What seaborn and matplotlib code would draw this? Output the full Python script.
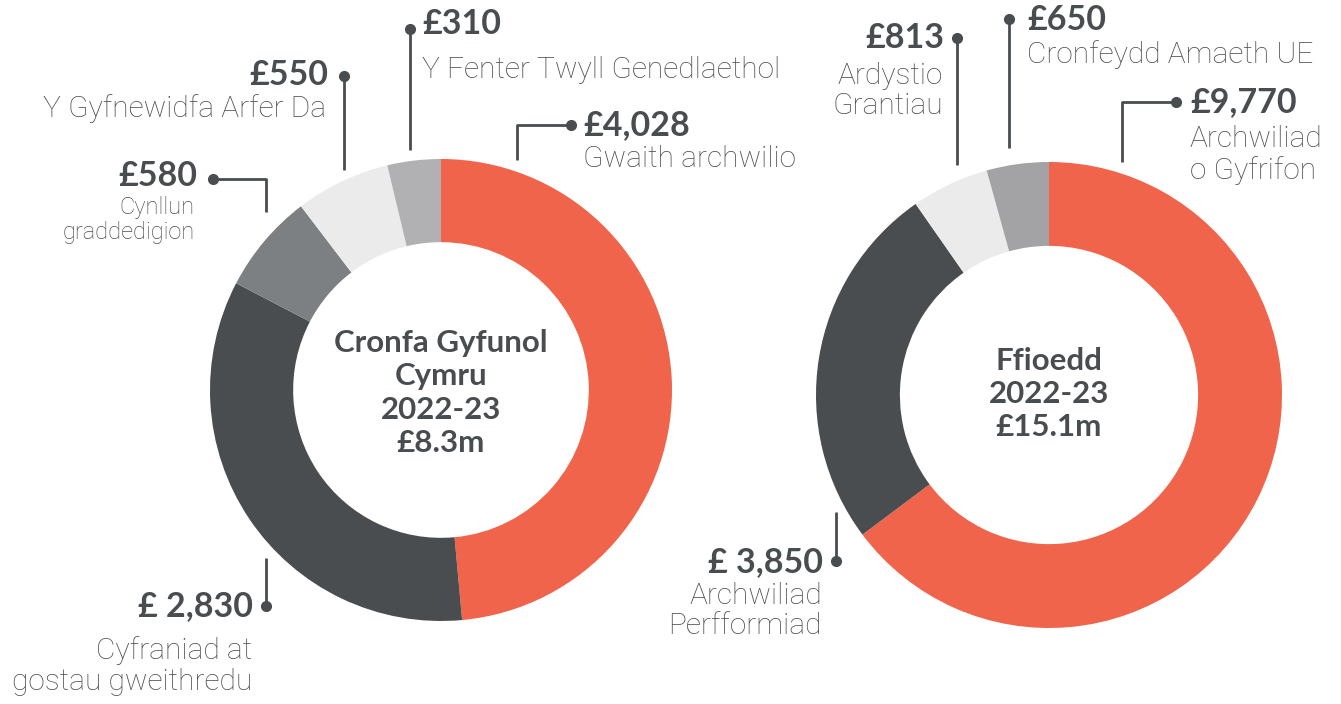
import numpy as np
import matplotlib.pyplot as plt
import seaborn as sns

sns.set_theme(style="white")
plt.rcParams['font.family'] = ['Lato', 'DejaVu Sans']

# Data
cronfa_labels = ['Gwaith archwilio', 'Cyfraniad at gostau gweithredu', 'Cynllun graddedigion',
                 'Y Gyfnewidfa Arfer Da', 'Y Fenter Twyll Genedlaethol']
cronfa_values = [4028, 2830, 580, 550, 310]
cronfa_colors = ['#F0644B', '#4A4D50', '#7D8083', '#EBEBEB', '#B1B1B3']

ffioedd_labels = ['Archwiliad o Gyfrifon', 'Archwiliad Perfformiad', 'Ardystio Grantiau',
                  'Cronfeydd Amaeth UE']
ffioedd_values = [9770, 3850, 813, 650]
ffioedd_colors = ['#F0644B', '#4A4D50', '#EBEBEB', '#A3A3A5']

TXT = '#4A4D50'
W, H = 1341, 704

fig = plt.figure(figsize=(W / 100, H / 100), dpi=100)
ax = fig.add_axes([0, 0, 1, 1])


def Y(y):
    # pixel row (from top) -> data y
    return H - y


def donut(values, colors, cx, cy, r, width=0.36):
    ax.pie(values, colors=colors, startangle=90, counterclock=False,
           center=(cx, Y(cy)), radius=r,
           wedgeprops=dict(width=width * r, linewidth=0))


donut(cronfa_values, cronfa_colors, 441, 390, 231)
donut(ffioedd_values, ffioedd_colors, 1049, 395, 233)

ax.set_xlim(0, W)
ax.set_ylim(0, H)
ax.set_aspect('equal')
ax.axis('off')


def leader(pts):
    xs = [p[0] for p in pts]
    ys = [Y(p[1]) for p in pts]
    ax.plot(xs, ys, color=TXT, lw=2, solid_capstyle='butt')
    ax.plot(xs[-1], ys[-1], 'o', color=TXT, ms=7)


def value(x, y, s, ha):
    ax.text(x, Y(y), s, ha=ha, va='center', fontsize=24.5, fontweight='bold', color=TXT)


def name(x, y, s, ha, size=21.5):
    ax.text(x, Y(y), s, ha=ha, va='center', fontsize=size, fontweight='light',
            family=['Roboto', 'DejaVu Sans'], color=TXT, linespacing=1.12)


# Left donut labels
leader([(517, 160), (517, 125), (571, 125)])
value(583, 125, '£4,028', 'left')
name(583, 159, cronfa_labels[0], 'left')

leader([(410, 150), (410, 29)])
value(422, 24, '£310', 'left')
name(422, 70, cronfa_labels[4], 'left')

leader([(344, 170), (344, 76)])
value(328, 75, '£550', 'right')
name(326, 109, cronfa_labels[3], 'right')

leader([(266, 212), (266, 179), (213, 179)])
value(197, 176, '£580', 'right')
name(195, 220, 'Cynllun\ngraddedigion', 'right', size=17)

leader([(266, 558), (266, 606)])
value(253, 606, '£ 2,830', 'right')
name(252, 666, 'Cyfraniad at\ngostau gweithredu', 'right')

ax.text(441, Y(393), 'Cronfa Gyfunol\nCymru\n2022-23\n£8.3m', ha='center', va='center',
        fontsize=22.5, fontweight='bold', color=TXT, linespacing=1.22)

# Right donut labels
leader([(957, 165), (957, 38)])
value(944, 38, '£813', 'right')
name(943, 91, 'Ardystio\nGrantiau', 'right')

leader([(1009, 148), (1009, 19)])
value(1027, 20, '£650', 'left')
name(1027, 55, ffioedd_labels[3], 'left')

leader([(1122, 162), (1122, 102), (1176, 102)])
value(1190, 102, '£9,770', 'left')
name(1190, 155, 'Archwiliad\no Gyfrifon', 'left')

leader([(836, 512), (836, 561)])
value(823, 562, '£ 3,850', 'right')
name(822, 611, 'Archwiliad\nPerfformiad', 'right')

ax.text(1049, Y(394), 'Ffioedd\n2022-23\n£15.1m', ha='center', va='center',
        fontsize=22.5, fontweight='bold', color=TXT, linespacing=1.22)

fig.savefig('out.png', dpi=100, facecolor='white')
